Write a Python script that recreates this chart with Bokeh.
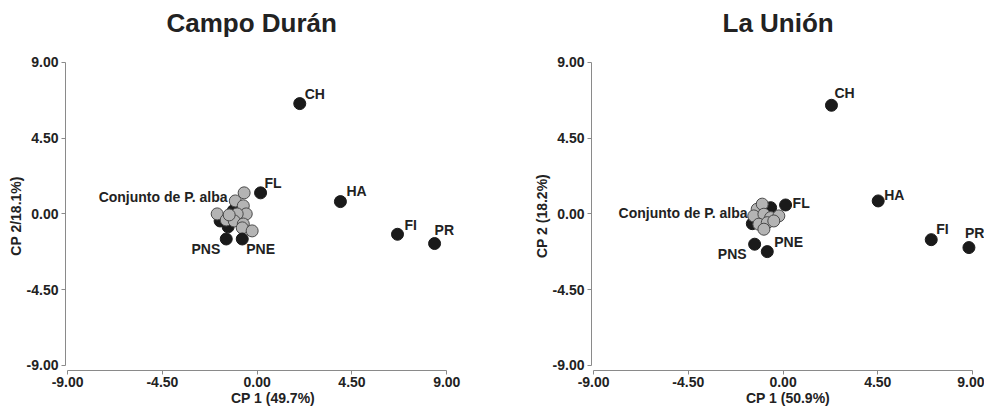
from bokeh.plotting import figure
from bokeh.layouts import row
from bokeh.models import FixedTicker, PrintfTickFormatter, Range1d, Title
from bokeh.embed import file_html
from bokeh.resources import INLINE
from bokeh.core.properties import value

FONT = "Liberation Sans"
TXT = "#222222"

ticks = [-9.0, -4.5, 0.0, 4.5, 9.0]

# ---- Campo Durán ----
cd_title = "Campo Durán"
cd_names = ["CH", "HA", "FI", "PR", "FL", "PNS", "PNE"]
cd_x = [2.02, 3.95, 6.66, 8.42, 0.16, -1.47, -0.71]
cd_y = [6.55, 0.73, -1.21, -1.76, 1.25, -1.49, -1.49]
cd_alba_x = [-0.62, -1.04, -0.66, -0.52, -0.95, -1.90, -1.47, -1.09, -0.66, -0.71, -0.24, -1.33]
cd_alba_y = [1.25, 0.77, 0.48, 0.00, 0.00, 0.00, -0.36, -0.42, -0.60, -0.83, -1.01, -0.06]
cd_hid_x = [-1.14, -1.76, -1.38]
cd_hid_y = [0.18, -0.42, -0.77]
cd_alba_label = (-1.41, 1.03)

# ---- La Unión ----
lu_title = "La Unión"
lu_names = ["CH", "HA", "FI", "PR", "FL", "PNS", "PNE"]
lu_x = [2.30, 4.52, 7.04, 8.83, 0.12, -1.35, -0.75]
lu_y = [6.45, 0.77, -1.53, -2.00, 0.53, -1.80, -2.24]
lu_alba_x = [-1.23, -0.99, -1.39, -0.91, -0.59, -0.20, -1.15, -0.75, -0.91, -0.44]
lu_alba_y = [0.28, 0.58, -0.12, -0.02, -0.22, -0.12, -0.61, -0.52, -0.91, -0.42]
lu_hid_x = [-0.59, -1.46]
lu_hid_y = [0.37, -0.58]
lu_alba_label = (-1.69, 0.06)

ALBA_TEXT = "Conjunto de P. alba"

# label placement styles: (align, x_offset px, y_offset px)
cd_style = {"CH": ("left", 5, -10), "HA": ("left", 6, -11), "FI": ("left", 7, -9),
            "PR": ("left", 0, -14), "FL": ("left", 4, -10), "PNS": ("right", -6, 10),
            "PNE": ("left", 4, 10)}
lu_style = {"CH": ("left", 3, -12), "HA": ("left", 6, -6), "FI": ("left", 5, -11),
            "PR": ("left", -4, -15), "FL": ("left", 7, -2), "PNS": ("right", -8, 10),
            "PNE": ("left", 7, -10)}


def panel(title, title_off, names, xs, ys, ax, ay, hx, hy, alba_lab, style,
          xlabel, ylabel, bl, br, xend):
    p = figure(width=492, height=409, output_backend="svg", toolbar_location=None,
               x_range=Range1d(-9.1, xend), y_range=Range1d(-9.3, 9.05),
               min_border_left=bl, min_border_right=br, min_border_top=61,
               min_border_bottom=39, title=title)
    p.outline_line_color = None
    p.xgrid.visible = False
    p.ygrid.visible = False
    p.background_fill_color = "white"
    p.border_fill_color = "white"
    p.title.align = "left"
    p.title.offset = title_off
    p.title.standoff = 0
    p.title.text_font = FONT
    p.title.text_font_size = "26px"
    p.title.text_font_style = "bold"
    p.title.text_color = TXT
    # blank spacer between the title and the plot area
    p.add_layout(Title(text=" ", text_font_size="20px", standoff=0), "above")

    for axis, lab in ((p.xaxis[0], xlabel), (p.yaxis[0], ylabel)):
        axis.ticker = FixedTicker(ticks=ticks)
        axis.formatter = PrintfTickFormatter(format="%.2f")
        axis.bounds = (-9, 9)
        axis.axis_label = lab
        axis.axis_label_text_font = FONT
        axis.axis_label_text_font_size = "14px"
        axis.axis_label_text_font_style = "bold"
        axis.axis_label_text_color = TXT
        axis.axis_label_standoff = 0
        axis.major_label_text_font = FONT
        axis.major_label_text_font_size = "14px"
        axis.major_label_text_font_style = "bold"
        axis.major_label_text_color = TXT
        axis.major_label_standoff = 2
        axis.axis_line_color = "#8a8a8a"
        axis.major_tick_line_color = "#8a8a8a"
        axis.major_tick_out = 4
        axis.major_tick_in = 0
        axis.minor_tick_line_color = None
    p.yaxis[0].major_label_standoff = 3

    # hidden black points inside the cluster
    p.scatter(hx, hy, size=12, fill_color="#1a1a1a", line_color="#1a1a1a")
    # P. alba cluster (grey)
    p.scatter(ax, ay, size=12, fill_color="#b4b4b4", line_color="#4a4a4a", line_width=1)
    # named points
    p.scatter(xs, ys, size=12, fill_color="#1a1a1a", line_color="#1a1a1a")

    for n, x, y in zip(names, xs, ys):
        al, dx, dy = style[n]
        p.text([x], [y], text=[n], x_offset=dx, y_offset=dy, text_align=al,
               text_baseline="middle", text_font=value(FONT),
               text_font_size="14px", text_font_style="bold", text_color=TXT)
    p.text([alba_lab[0]], [alba_lab[1]], text=[ALBA_TEXT], text_align="right",
           text_baseline="middle", text_font=value(FONT),
           text_font_size="14px", text_font_style="bold", text_color=TXT)
    return p


p1 = panel(cd_title, 101, cd_names, cd_x, cd_y, cd_alba_x, cd_alba_y,
           cd_hid_x, cd_hid_y, cd_alba_label, cd_style, "CP 1 (49.7%)", "CP 2/18.1%)",
           65, 12, 10.6)
p2 = panel(lu_title, 131, lu_names, lu_x, lu_y, lu_alba_x, lu_alba_y,
           lu_hid_x, lu_hid_y, lu_alba_label, lu_style, "CP 1 (50.9%)", "CP 2 (18.2%)",
           99, 0, 9.57)

layout = row(p1, p2, spacing=0)
open("out.html", "w").write(file_html(layout, INLINE))
